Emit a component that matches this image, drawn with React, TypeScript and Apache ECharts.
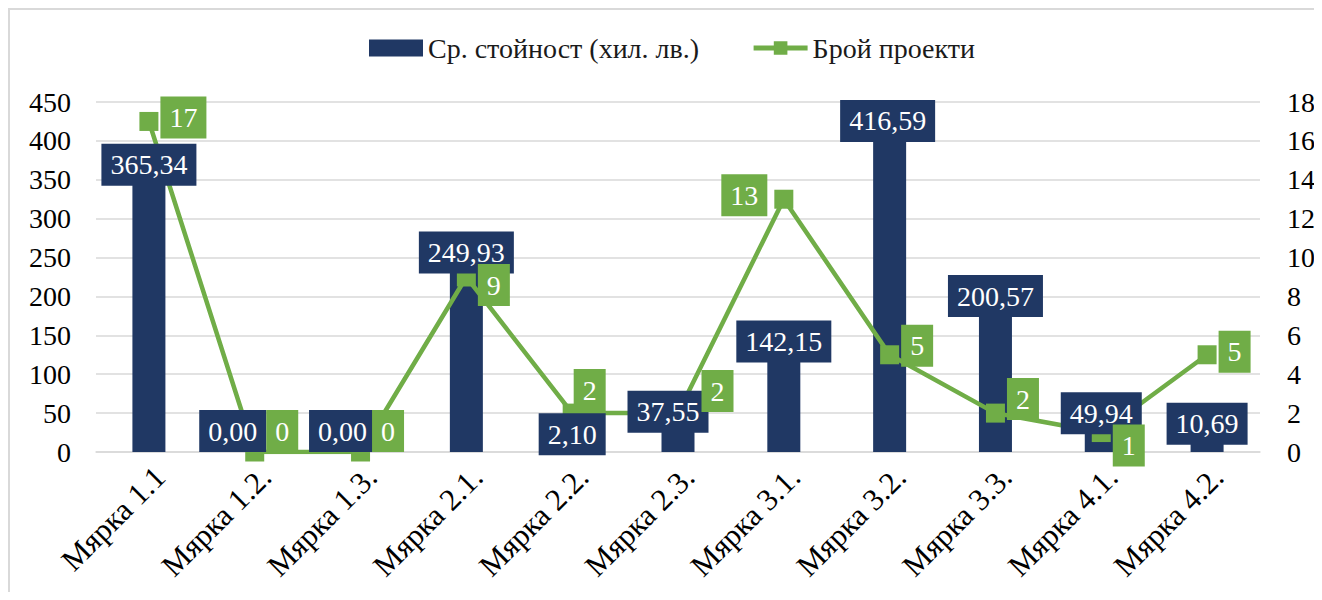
import React, { useEffect, useRef } from 'react';
import * as echarts from 'echarts';

// ---- data ----
const categories = [
  'Мярка 1.1', 'Мярка 1.2.', 'Мярка 1.3.', 'Мярка 2.1.', 'Мярка 2.2.', 'Мярка 2.3.',
  'Мярка 3.1.', 'Мярка 3.2.', 'Мярка 3.3.', 'Мярка 4.1.', 'Мярка 4.2.',
];
const avgCost = [365.34, 0, 0, 249.93, 2.1, 37.55, 142.15, 416.59, 200.57, 49.94, 10.69];
const projectCount = [17, 0, 0, 9, 2, 2, 13, 5, 2, 1, 5];
const seriesNames = ['Ср. стойност (хил. лв.)', 'Брой проекти'];

// ---- styling (label nudges as in the reference) ----
const NAVY = '#203864';
const GREEN = '#70AD47';
const FONT = 'Liberation Serif';
const barLabelNudge: number[][] = [
  [0, -3], [-22, -21], [-18, -21], [0, -5], [0, -16], [-10, -11],
  [0, 0], [-2, -7], [0, 0], [0, 0], [0, -20],
];
const lineLabelSide = ['right', 'right', 'right', 'right', 'right', 'right', 'left', 'right', 'right', 'right', 'right'];
const lineLabelNudge: number[][] = [
  [0, -4], [0, -21], [0, -21], [0, 8], [-10, -23], [12, -22],
  [0, -4], [0, -9], [0, -14], [0, 13], [0, -3],
];

export default function App() {
  const ref = useRef<HTMLDivElement>(null);
  useEffect(() => {
    const chart = echarts.init(ref.current!, null, { renderer: 'svg' });
    const fmt = (v: number) => v.toFixed(2).replace('.', ',');
    const labelBox = {
      fontFamily: FONT,
      fontSize: 28,
      lineHeight: 28,
      color: '#fff',
      padding: [7, 9],
    };
    chart.setOption({
      animation: false,
      textStyle: { fontFamily: FONT },
      legend: {
        left: 359,
        top: 22,
        padding: 0,
        itemWidth: 54,
        itemHeight: 17,
        itemGap: 52,
        data: [
          { name: seriesNames[0], icon: 'rect' },
          { name: seriesNames[1], lineStyle: { width: 5 } },
        ],
        textStyle: { fontFamily: FONT, fontSize: 28, color: '#1a1a1a', lineHeight: 32 },
      },
      grid: { left: 86, right: 54, top: 92, bottom: 140, outerBoundsMode: 'none' },
      xAxis: {
        type: 'category',
        data: categories,
        axisLine: { lineStyle: { color: '#D9D9D9', width: 1.5 } },
        axisTick: { show: false },
        axisLabel: {
          rotate: 45,
          interval: 0,
          margin: 9,
          verticalAlign: 'top',
          fontFamily: FONT,
          fontSize: 31,
          color: '#000',
        },
      },
      yAxis: [
        {
          type: 'value',
          min: 0,
          max: 450,
          interval: 50,
          axisLine: { show: false },
          axisTick: { show: false },
          splitLine: { lineStyle: { color: '#D9D9D9', width: 1.5 } },
          axisLabel: { margin: 25, fontFamily: FONT, fontSize: 28, color: '#000' },
        },
        {
          type: 'value',
          min: 0,
          max: 18,
          interval: 2,
          position: 'right',
          axisLine: { show: false },
          axisTick: { show: false },
          splitLine: { show: false },
          axisLabel: { margin: 27, fontFamily: FONT, fontSize: 28, color: '#000' },
        },
      ],
      series: [
        {
          name: seriesNames[0],
          type: 'bar',
          yAxisIndex: 0,
          barWidth: 33,
          z: 2,
          itemStyle: { color: NAVY },
          label: { show: false },
          data: avgCost,
        },
        {
          name: seriesNames[1],
          type: 'line',
          yAxisIndex: 1,
          z: 3,
          symbol: 'rect',
          symbolSize: 19,
          lineStyle: { color: GREEN, width: 4.5 },
          itemStyle: { color: GREEN },
          label: { show: false },
          data: projectCount,
        },
        {
          // label layer for the bars (drawn above the line)
          name: seriesNames[0] + ' labels',
          type: 'bar',
          yAxisIndex: 0,
          barWidth: 33,
          barGap: '-100%',
          z: 5,
          silent: true,
          itemStyle: { color: 'rgba(0,0,0,0)' },
          label: {
            show: true,
            position: 'top',
            distance: -21,
            formatter: (p: any) => fmt(p.value),
            backgroundColor: NAVY,
            ...labelBox,
          },
          data: avgCost.map((v, i) => ({ value: v, label: { offset: barLabelNudge[i] } })),
        },
        {
          // label layer for the line
          name: seriesNames[1] + ' labels',
          type: 'line',
          yAxisIndex: 1,
          z: 6,
          silent: true,
          symbol: 'rect',
          symbolSize: 19,
          lineStyle: { width: 0, color: 'rgba(0,0,0,0)' },
          itemStyle: { color: 'rgba(0,0,0,0)' },
          label: {
            show: true,
            position: 'right',
            distance: 2,
            backgroundColor: GREEN,
            ...labelBox,
          },
          data: projectCount.map((v, i) => ({
            value: v,
            label: {
              position: lineLabelSide[i],
              distance: lineLabelSide[i] === 'left' ? 7 : 2,
              offset: lineLabelNudge[i],
            },
          })),
        },
      ],
    });
    return () => chart.dispose();
  }, []);
  return (
    <div
      style={{
        width: 1306,
        height: 584,
        boxSizing: 'border-box',
        borderTop: '2px solid #D9D9D9',
        borderLeft: '2px solid #D9D9D9',
        background: '#fff',
      }}
    >
      <div ref={ref} style={{ width: 1304, height: 582 }} />
    </div>
  );
}
